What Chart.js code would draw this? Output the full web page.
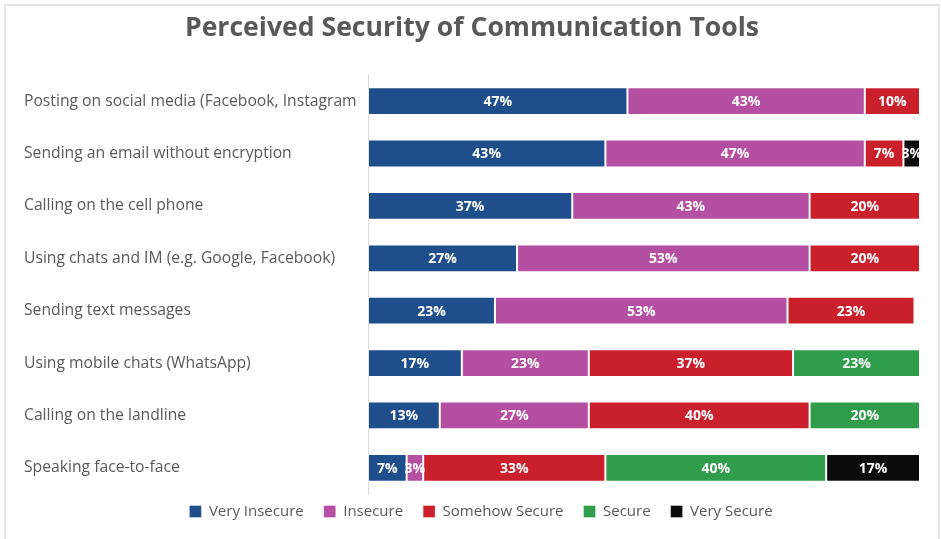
<!DOCTYPE html>
<html>
<head>
<meta charset="utf-8">
<script src="https://cdn.jsdelivr.net/npm/chart.js@4/dist/chart.umd.min.js"></script>
<style>
  html, body { margin: 0; padding: 0; background: #ffffff; }
  #wrap { position: relative; width: 941px; height: 539px; }
</style>
</head>
<body>
<div id="wrap"><canvas id="c" width="941" height="539"></canvas></div>
<script>
// Communication tools, top to bottom
const categories = [
  'Posting on social media (Facebook, Instagram',
  'Sending an email without encryption',
  'Calling on the cell phone',
  'Using chats and IM (e.g. Google, Facebook)',
  'Sending text messages',
  'Using mobile chats (WhatsApp)',
  'Calling on the landline',
  'Speaking face-to-face'
];

// Share of respondents (%) per rating
const veryInsecure  = [47, 43, 37, 27, 23, 17, 13, 7];
const insecure      = [43, 47, 43, 53, 53, 23, 27, 3];
const somehowSecure = [10, 7, 20, 20, 23, 37, 40, 33];
const secure        = [0, 0, 0, 0, 0, 23, 20, 40];
const verySecure    = [0, 3, 0, 0, 0, 0, 0, 17];

const seriesNames = ['Very Insecure', 'Insecure', 'Somehow Secure', 'Secure', 'Very Secure'];
const seriesColors = ['#1f4e8c', '#b44fa2', '#c9202b', '#2f9d4a', '#0b0b0b'];

const TEXT = '#595959';
const FONT = "'Open Sans', 'Noto Sans', sans-serif";

// White percentage labels centred on each segment
const segmentLabels = {
  id: 'segmentLabels',
  afterDatasetsDraw(chart) {
    const ctx = chart.ctx;
    ctx.save();
    ctx.font = "bold 14px " + FONT;
    ctx.fillStyle = '#ffffff';
    ctx.textAlign = 'center';
    ctx.textBaseline = 'middle';
    chart.data.datasets.forEach((ds, di) => {
      const meta = chart.getDatasetMeta(di);
      meta.data.forEach((bar, i) => {
        const v = ds.data[i];
        if (!v) return;
        const p = bar.getProps(['x', 'y', 'base'], true);
        ctx.fillText(v + '%', (p.x + p.base) / 2, p.y + 1);
      });
    });
    ctx.restore();
  }
};

// Light frame around the chart; legend sits a little right of centre and close under the bars
const frame = {
  id: 'frame',
  afterLayout(chart) {
    const lg = chart.legend;
    if (lg) {
      lg.left += 9; lg.right += 9;
      lg.top -= 10; lg.bottom -= 10;
    }
  },
  beforeDraw(chart) {
    const ctx = chart.ctx;
    ctx.save();
    ctx.fillStyle = '#ffffff';
    ctx.fillRect(0, 0, chart.width, chart.height);
    ctx.strokeStyle = '#e6e6e6';
    ctx.lineWidth = 2;
    ctx.beginPath();
    ctx.moveTo(5, chart.height);
    ctx.lineTo(5, 5);
    ctx.lineTo(chart.width - 2, 5);
    ctx.lineTo(chart.width - 2, chart.height);
    ctx.stroke();
    ctx.restore();
  }
};

const seriesData = [veryInsecure, insecure, somehowSecure, secure, verySecure];

new Chart(document.getElementById('c'), {
  type: 'bar',
  data: {
    labels: categories,
    datasets: seriesNames.map((name, k) => ({
      label: name,
      data: seriesData[k],
      backgroundColor: seriesColors[k],
      borderColor: 'rgba(255,255,255,0.35)',
      borderWidth: 1,
      borderSkipped: false,
      barPercentage: 0.53,
      categoryPercentage: 1.0
    }))
  },
  options: {
    indexAxis: 'y',
    responsive: false,
    animation: false,
    devicePixelRatio: 1,
    layout: { padding: { left: 24, right: 21, top: 0, bottom: 0 } },
    scales: {
      x: {
        stacked: true,
        min: 0,
        max: 100,
        display: false
      },
      y: {
        stacked: true,
        grid: { display: false, drawTicks: false },
        border: { display: true, color: '#d9d9d9', width: 1 },
        ticks: {
          color: TEXT,
          font: { family: FONT, size: 15.7 },
          crossAlign: 'far',
          padding: 0
        },
        afterFit(axis) { axis.width = 344; }
      }
    },
    plugins: {
      title: {
        display: true,
        text: 'Perceived Security of Communication Tools',
        color: TEXT,
        font: { family: FONT, size: 26.6, weight: 'bold' },
        padding: { top: 12, bottom: 31 }
      },
      legend: {
        position: 'bottom',
        labels: {
          color: TEXT,
          font: { family: FONT, size: 15 },
          boxWidth: 12,
          boxHeight: 12,
          padding: 20
        }
      },
      tooltip: { enabled: false }
    }
  },
  plugins: [frame, segmentLabels]
});
</script>
</body>
</html>
